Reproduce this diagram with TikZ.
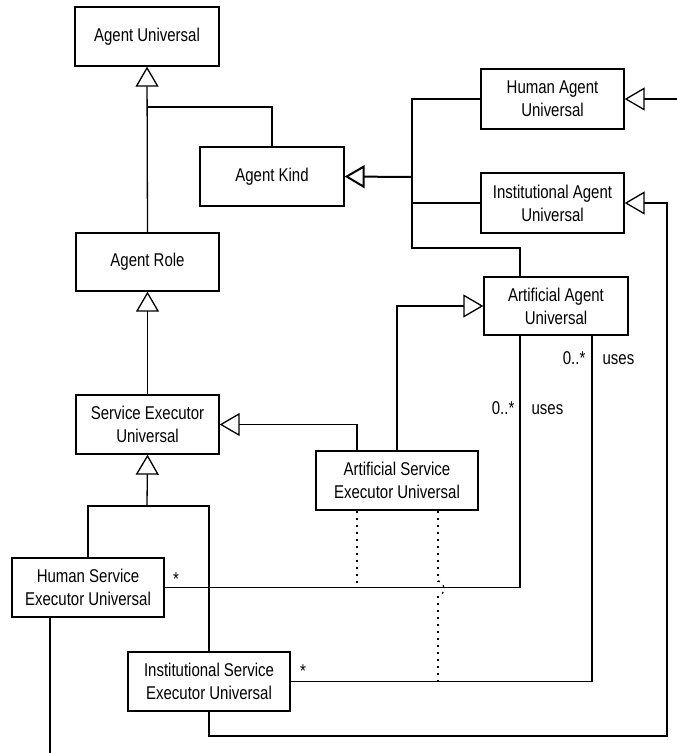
\documentclass[tikz,border=0pt]{standalone}
\usepackage{fontspec}
\setmainfont[FakeStretch=0.81]{Liberation Sans}
\usetikzlibrary{arrows.meta}

\tikzset{
    box/.style={draw, minimum width=#1, minimum height=59pt, inner sep=0pt,
        align=center, font=\fontsize{18.5}{23}\selectfont},
    box/.default=144pt,
    lab/.style={inner sep=0pt, font=\fontsize{18.5}{23}\selectfont},
    gen/.style={-{Triangle[open, length=20pt, width=23pt]}},
    linkdots/.style={dash pattern=on 2pt off 5pt},
}

\begin{document}
\begin{tikzpicture}[x=1pt, y=-1pt, line width=1.3pt]
    \useasboundingbox (0,0) rectangle (677,753);
    % classes
    \node [box] (aUniv) at (147,36.5) {Agent Universal};
    \node [box] (aKind) at (272,176.5) {Agent Kind};
    \node [box=143pt, minimum height=60pt] (hAgent) at (552.5,99) {Human Agent\\Universal};
    \node [box=143pt, minimum height=60pt] (iAgent) at (552.5,203) {Institutional Agent\\Universal};
    \node [box=143pt, minimum height=58pt] (aRole) at (147.5,262) {Agent Role};
    \node [box, minimum height=58pt] (artAgent) at (556,306) {Artificial Agent\\Universal};
    \node [box=143pt] (seUniv) at (147.5,424.5) {Service Executor\\Universal};
    \node [box=162pt] (artSE) at (397,480.5) {Artificial Service\\Executor Universal};
    \node [box=152pt] (hSE) at (88,587.5) {Human Service\\Executor Universal};
    \node [box=162pt] (iSE) at (209,681.5) {Institutional Service\\Executor Universal};

    % junctions and loose ends
    \coordinate (auJ) at (147,107);
    \coordinate (kJ) at (412,177);
    \coordinate (kLow) at (412,248);
    \coordinate (seJ) at (147,506);
    \coordinate (hIn) at (677,99);
    \coordinate (iIn) at (667,736);
    \coordinate (hOut) at (50,753);
    \coordinate (dA) at ([xshift=-40pt]artSE.south);
    \coordinate (dB) at ([xshift=41pt]artSE.south);
    \coordinate (hopA) at (438,581);
    \coordinate (hopB) at (438,596);

    % generalisations
    \draw [gen] (aRole.north) -- (aUniv.south);
    \draw (aKind.north) |- (auJ);
    \draw [gen, line width=2pt] (kJ) -- (aKind.east);
    \draw (hAgent.west) -| (kJ);
    \draw (iAgent.west) -| (kJ);
    \draw ([xshift=-36pt]artAgent.north) |- (kLow) -- (kJ);
    \draw [gen] (seUniv.north) -- (aRole.south);
    \draw [gen] ([xshift=-40pt]artSE.north) |- (seUniv.east);
    \draw [gen] (artSE.north) |- (artAgent.west);
    \draw [gen] (seJ) -- (seUniv.south);
    \draw (hSE.north) |- (iSE.north |- seJ) -- (iSE.north);
    \draw [gen] (hIn) -- (hAgent.east);
    \draw [gen] (iSE.south) |- (iIn) |- (iAgent.east);
    \draw (hSE.south -| hOut) -- (hOut);

    % uses associations
    \draw (hSE.east) -| ([xshift=-36pt]artAgent.south);
    \draw (iSE.east) -| ([xshift=36pt]artAgent.south);
    \node [lab, anchor=base] (hStar) at (176,585) {*};
    \node [lab, anchor=base] (iStar) at (303,677) {*};
    \node [lab, anchor=base east] (iMult) at (586,364) {0..*};
    \node [lab, anchor=base west] (iUses) at (602,364) {uses};
    \node [lab, anchor=base east] (hMult) at (515,414) {0..*};
    \node [lab, anchor=base west] (hUses) at (531,414) {uses};

    % association class links, the right one hops over the upper line
    \draw [linkdots] (dA) -- (dA |- hSE.east);
    \draw [linkdots] (dB) -- (hopA);
    \draw [linkdots] (hopA) to[out=0, in=0, looseness=1.3] (hopB);
    \draw [linkdots] (hopB) -- (hopB |- iSE.east);
\end{tikzpicture}
\end{document}
